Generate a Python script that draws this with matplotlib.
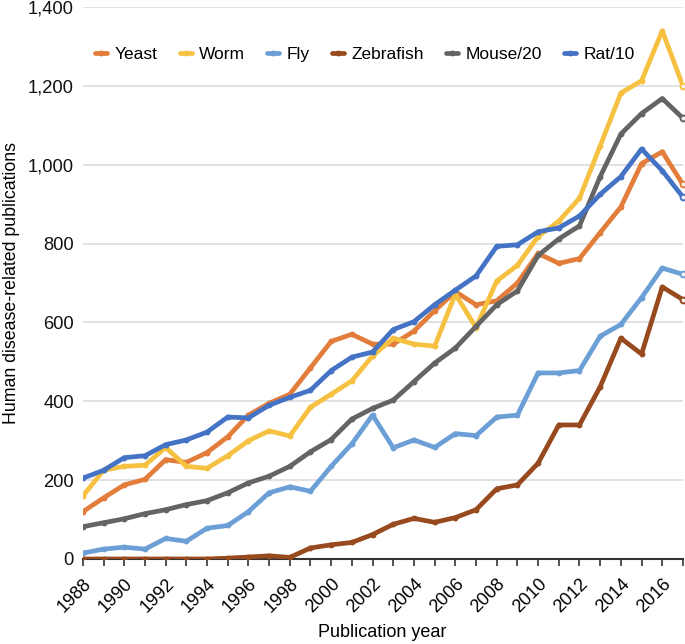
import matplotlib
matplotlib.use("Agg")
import matplotlib.pyplot as plt
from matplotlib.ticker import FuncFormatter, MultipleLocator

plt.rcParams['font.family'] = ['Liberation Sans', 'DejaVu Sans']

years = list(range(1988, 2018))
yeast = [120, 155, 188, 202, 252, 245, 270, 310, 365, 395, 418, 485, 552, 570, 545,
         545, 578, 630, 678, 645, 655, 700, 775, 750, 762, 828, 893, 1003, 1033, 950]
worm = [160, 225, 235, 238, 283, 235, 230, 262, 300, 325, 312, 385, 418, 452, 515,
        560, 545, 540, 672, 587, 705, 745, 818, 857, 915, 1048, 1182, 1213, 1340, 1200]
fly = [15, 25, 30, 25, 52, 45, 78, 85, 120, 168, 183, 172, 235, 292, 365,
       282, 302, 283, 318, 313, 360, 365, 472, 472, 478, 565, 595, 663, 738, 722]
zebrafish = [0, 0, 0, 0, 0, 0, 0, 2, 5, 8, 4, 28, 36, 42, 62,
             88, 103, 93, 105, 125, 178, 188, 243, 340, 340, 437, 560, 520, 690, 658]
mouse20 = [82, 92, 102, 115, 125, 138, 148, 168, 193, 210, 235, 272, 303, 355, 382,
           403, 450, 497, 535, 590, 645, 680, 770, 812, 845, 970, 1078, 1130, 1168, 1118]
rat10 = [205, 225, 257, 262, 290, 302, 322, 360, 358, 390, 410, 428, 478, 512, 525,
         582, 602, 645, 682, 718, 793, 797, 830, 840, 870, 925, 970, 1040, 985, 918]

series = [
    ("Yeast", yeast, "#E27D3B"),
    ("Worm", worm, "#F6C141"),
    ("Fly", fly, "#6B9FD6"),
    ("Zebrafish", zebrafish, "#974A1E"),
    ("Mouse/20", mouse20, "#646464"),
    ("Rat/10", rat10, "#4472C4"),
]

fig = plt.figure(figsize=(6.85, 6.44), dpi=100)
ax = fig.add_axes([0.121, 0.132, 0.876, 0.857])

for name, vals, col in series:
    ax.plot(years, vals, color=col, lw=3.4, marker='o', ms=3.2,
            solid_capstyle='round', solid_joinstyle='round', label=name, zorder=3)
    ax.plot(years[-1], vals[-1], marker='o', ms=4.2, mfc='#f4f4f4', mec=col,
            mew=1.4, zorder=4, clip_on=False)

ax.set_xlim(1988, 2017)
ax.set_ylim(0, 1400)
ax.yaxis.set_major_locator(MultipleLocator(200))
ax.yaxis.set_major_formatter(FuncFormatter(lambda v, p: f"{int(v):,}"))
ax.xaxis.set_major_locator(MultipleLocator(2))
ax.xaxis.set_minor_locator(MultipleLocator(1))
ax.grid(axis='y', color='#dcdcdc', lw=1.2, zorder=0)
ax.set_axisbelow(True)

for s in ['top', 'right', 'left']:
    ax.spines[s].set_visible(False)
ax.spines['bottom'].set_color('#333333')
ax.spines['bottom'].set_linewidth(1.5)

ax.tick_params(axis='y', length=0, labelsize=13.2, pad=6.5, colors='#111111')
ax.tick_params(axis='x', which='both', direction='out', length=5, width=1.2,
               color='#333333', labelsize=13, pad=7)
for lbl in ax.get_xticklabels():
    lbl.set_rotation(45)
    lbl.set_ha('right')
    lbl.set_rotation_mode('anchor')

ax.set_xlabel("Publication year", fontsize=13, va='center')
ax.xaxis.set_label_coords(0.498, -0.134)
ax.set_ylabel("Human disease-related publications", fontsize=12.8, labelpad=6)

ax.legend(loc='upper left', bbox_to_anchor=(0.0, 0.95), ncol=6, frameon=False,
          fontsize=12.5, handlelength=0.7, handletextpad=0.4, columnspacing=1.3,
          borderaxespad=0.3)

fig.savefig("out.png", dpi=100)
